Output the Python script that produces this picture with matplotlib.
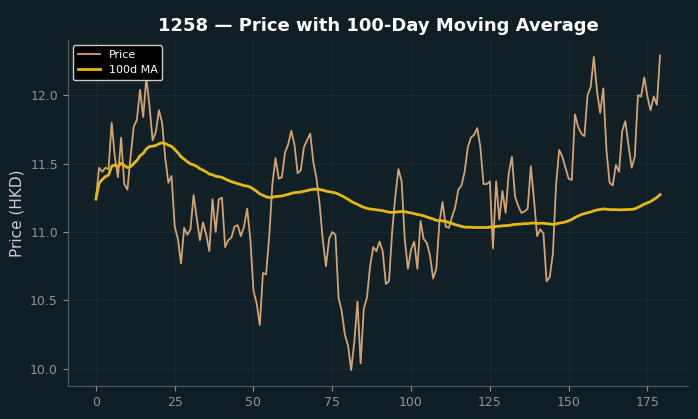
import numpy as np
import pandas as pd
import matplotlib
matplotlib.use("Agg")
import matplotlib.pyplot as plt

# Closing prices (HKD), one per trading day
price = [
    11.24, 11.47, 11.44, 11.47, 11.46, 11.80, 11.55, 11.40, 11.69, 11.35,
    11.31, 11.55, 11.77, 11.82, 12.04, 11.84, 12.13, 11.92, 11.67, 11.73,
    11.89, 11.80, 11.54, 11.36, 11.41, 11.04, 10.95, 10.77, 11.03, 10.98,
    11.02, 11.27, 11.10, 10.94, 11.07, 10.98, 10.86, 11.24, 11.00, 11.24,
    11.25, 10.89, 10.94, 10.96, 11.04, 11.05, 10.97, 11.04, 11.17, 10.95,
    10.57, 10.48, 10.32, 10.70, 10.69, 10.97, 11.35, 11.54, 11.39, 11.40,
    11.58, 11.64, 11.74, 11.64, 11.43, 11.45, 11.62, 11.67, 11.72, 11.51,
    11.39, 11.20, 10.94, 10.75, 10.95, 11.00, 10.98, 10.52, 10.42, 10.25,
    10.17, 9.99, 10.20, 10.49, 10.04, 10.44, 10.52, 10.75, 10.89, 10.86,
    10.93, 10.86, 10.62, 10.64, 11.00, 11.26, 11.46, 11.37, 10.95, 10.73,
    10.87, 10.93, 10.73, 11.08, 10.95, 10.92, 10.83, 10.66, 10.73, 11.07,
    11.22, 11.04, 11.03, 11.11, 11.18, 11.31, 11.34, 11.44, 11.62, 11.69,
    11.71, 11.76, 11.62, 11.35, 11.35, 11.37, 10.88, 11.37, 11.09, 11.30,
    11.14, 11.43, 11.55, 11.26, 11.19, 11.14, 11.15, 11.17, 11.48, 11.24,
    10.97, 11.02, 10.99, 10.64, 10.67, 10.84, 11.34, 11.60, 11.55, 11.47,
    11.39, 11.38, 11.86, 11.77, 11.72, 11.70, 12.00, 12.06, 12.28, 12.03,
    11.87, 12.05, 11.60, 11.36, 11.34, 11.49, 11.44, 11.74, 11.81, 11.63,
    11.47, 11.55, 12.00, 11.99, 12.13, 11.99, 11.89, 11.99, 11.93, 12.29,
]
days = np.arange(len(price))

# 100-day moving average (shorter window at the start)
ma = pd.Series(price).rolling(100, min_periods=1).mean()

fig_bg = '#0f1e24'
ax_bg = '#111f27'

fig, ax = plt.subplots(figsize=(6.98, 4.19), dpi=100)
fig.patch.set_facecolor(fig_bg)
ax.set_facecolor(ax_bg)
fig.subplots_adjust(left=0.097, right=0.986, top=0.905, bottom=0.079)

ax.plot(days, price, color='#d4a373', linewidth=1.3, label='Price')
ax.plot(days, ma, color='#e6b812', linewidth=2, label='100d MA')

ax.set_title('1258 \u2014 Price with 100-Day Moving Average', color='white',
             fontsize=13, fontweight='bold')
ax.set_ylabel('Price (HKD)', color='#c8ced2', fontsize=11)

ax.set_xticks([0, 25, 50, 75, 100, 125, 150, 175])
ax.set_yticks([10.0, 10.5, 11.0, 11.5, 12.0])
ax.tick_params(colors='#8a9499', labelsize=9)
ax.grid(True, color='#2a3a40', linewidth=0.6, alpha=0.5)

for side in ['top', 'right']:
    ax.spines[side].set_visible(False)
for side in ['left', 'bottom']:
    ax.spines[side].set_color('#555f63')

leg = ax.legend(loc='upper left', fontsize=8, facecolor='black',
                edgecolor='#cccccc', framealpha=1)
for t in leg.get_texts():
    t.set_color('white')

plt.savefig('out.png', dpi=100, facecolor=fig_bg)
